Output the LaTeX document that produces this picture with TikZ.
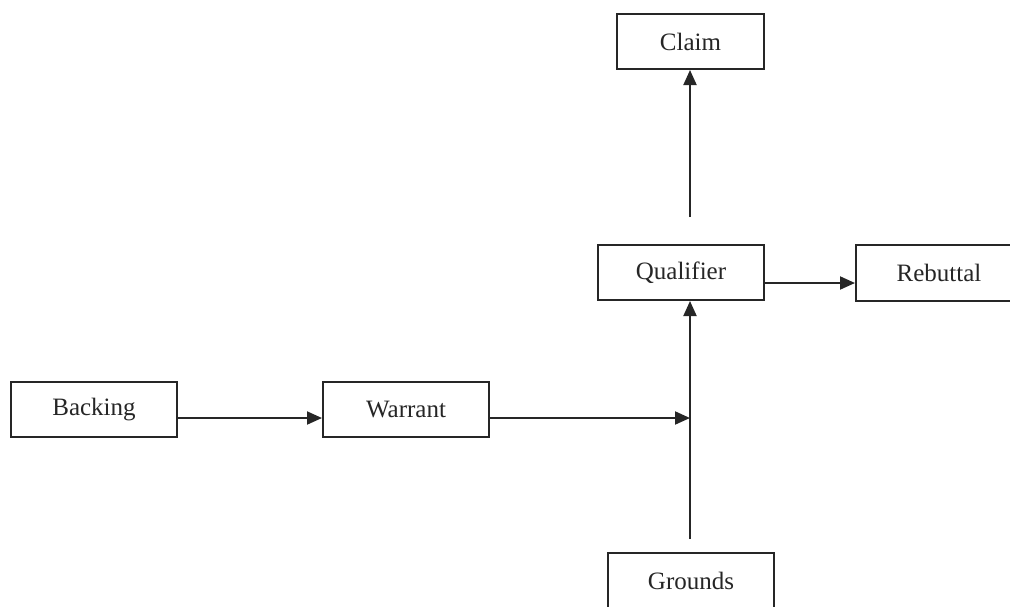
\documentclass[tikz,border=0pt]{standalone}
\usepackage{fontspec}
\setmainfont{Liberation Serif}
\usetikzlibrary{arrows.meta}
\begin{document}
\begin{tikzpicture}[x=1pt,y=-1pt,
  box/.style={draw=black!85, line width=2pt, fill=white, minimum width=166pt,
    minimum height=55pt, inner sep=0pt, font=\fontsize{25}{30}\selectfont, text=black!85},
  arr/.style={draw=black!85, line width=2pt, -{Triangle[length=15pt,width=13pt]}}]
\useasboundingbox (0,0) rectangle (1010,606);

% Toulmin elements
\node[box, minimum width=147pt] (claim) at (690.5,41.5) {Claim};
\node[box] (qual) at (681,272.5) {Qualifier};
\node[box, minimum height=56pt] (reb) at (939,273) {Rebuttal};
\node[box] (back) at (94,409.5) {Backing};
\node[box] (warr) at (406,409.5) {Warrant};
\node[box] (grd) at (691,580.5) {Grounds};

% free ends of the connectors
\coordinate (qtop) at (690,217);
\coordinate (gtop) at (690,539);
\coordinate (join) at (690,418);
\coordinate (rlev) at (0,283);

% connectors
\draw[arr] (qtop) -- (qtop |- claim.south);
\draw[arr] (gtop) -- (gtop |- qual.south);
\draw[arr] (warr.east |- join) -- (join);
\draw[arr] (back.east |- join) -- (warr.west |- join);
\draw[arr] (qual.east |- rlev) -- (reb.west |- rlev);
\end{tikzpicture}
\end{document}
